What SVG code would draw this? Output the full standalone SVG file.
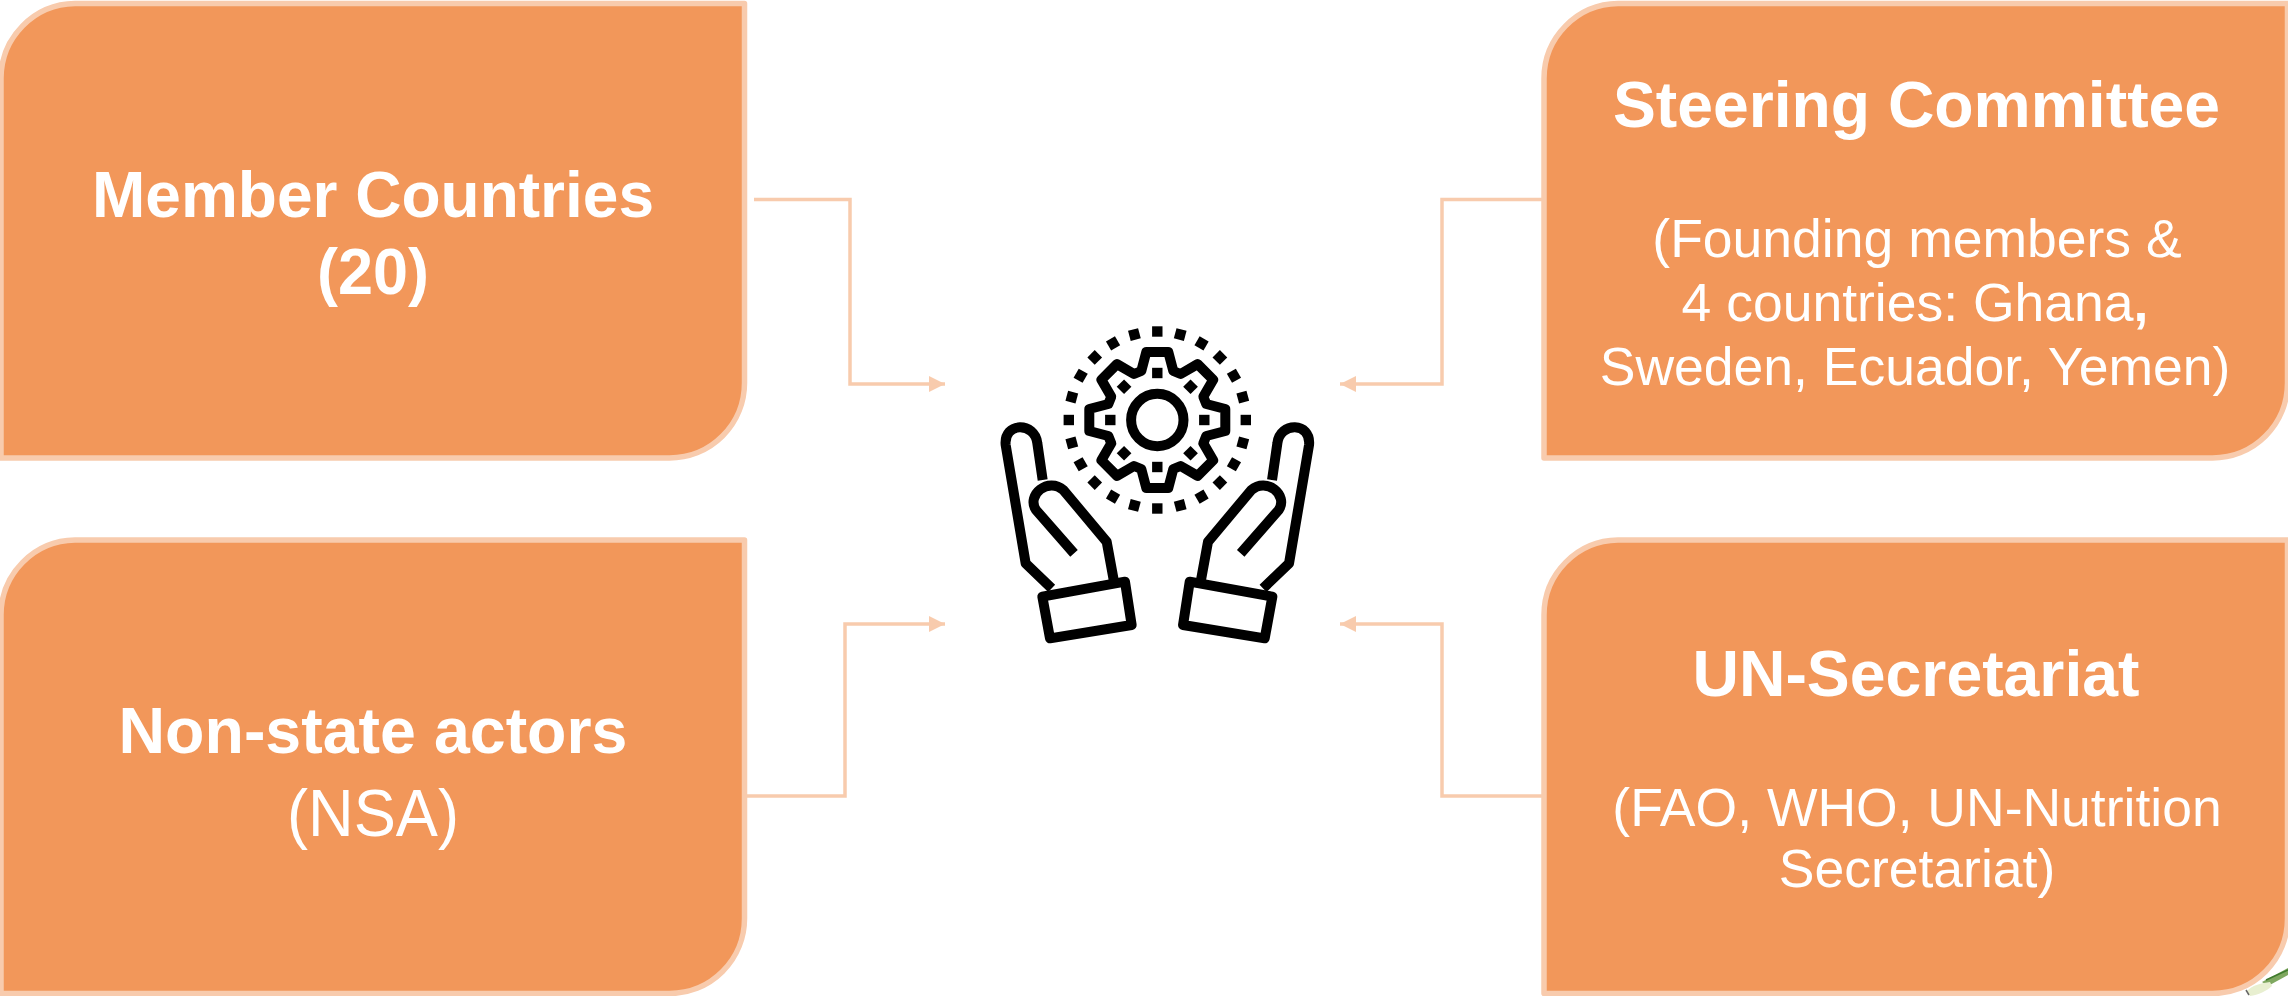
<svg xmlns="http://www.w3.org/2000/svg" width="2288" height="996" viewBox="0 0 2288 996">
<style>
.box{fill:#F2975A;stroke:#F8CBAD;stroke-width:5.5;stroke-linejoin:round}
.conn{fill:none;stroke:#F8CBAD;stroke-width:3.5}
text{font-family:"Liberation Sans",Arial,sans-serif;fill:#fff;font-size:53.5px;text-anchor:middle}
.b{font-weight:700;font-size:65.5px}
.r{font-size:66px}
.c{font-weight:700}
.ic{fill:none;stroke:#000;stroke-width:30;stroke-linejoin:round;stroke-linecap:butt}
.d{fill:#000}
.g{fill:none;stroke:#000;stroke-width:10;stroke-linejoin:round}
</style>
<defs>
<marker id="arr" markerUnits="userSpaceOnUse" markerWidth="16" markerHeight="16" refX="16" refY="8" orient="auto"><path d="M0 0L16 8L0 16Z" fill="#F8CBAD"/></marker>
<rect id="sq" x="-5.2" y="-5.2" width="10.4" height="10.4" class="d"/>
<g id="hand" class="ic">
<path d="M275 865L197 790L137 435C130 365 225 365 232 430L248 540"/>
<path d="M342 760L228 630C198 585 265 530 310 570L440 725L462 845"/>
<path d="M247 890L495 845L515 975L270 1015Z"/>
</g>
</defs>
<g id="background-onion">
<path d="M2262 982L2288 968V975L2268 986Z" fill="#7fa860"/>
<path d="M2266 980L2288 970" stroke="#3f7a2e" stroke-width="1.5" fill="none"/>
<path d="M2247 991C2252 985 2262 983 2270 982L2272 986C2267 991 2258 995 2250 996Z" fill="#e8efd0"/>
<path d="M2246 990L2249 995" stroke="#666" stroke-width="1.5" fill="none"/>
</g>
<g id="connectors">
<path class="conn" marker-end="url(#arr)" d="M754 199.5H850V384H945"/>
<path class="conn" marker-end="url(#arr)" d="M1542 199.5H1442V384H1340"/>
<path class="conn" marker-end="url(#arr)" d="M747 796H845V624H945"/>
<path class="conn" marker-end="url(#arr)" d="M1542 796H1442V624H1340"/>
</g>
<g id="node-member">
<path class="box" d="M75 3.5H744.5V383A75 75 0 0 1 669.5 458H1V78.5A75 75 0 0 1 75 3.5Z"/>
<text class="b" x="373" y="217" textLength="562" lengthAdjust="spacingAndGlyphs">Member Countries</text>
<text class="b" x="373" y="293.5" textLength="112" lengthAdjust="spacingAndGlyphs">(20)</text>
</g>
<g id="node-steering">
<path class="box" d="M1618 3.5H2287.5V383A75 75 0 0 1 2212.5 458H1544V78.5A75 75 0 0 1 1618 3.5Z"/>
<text class="b" x="1916.5" y="126.7" textLength="607" lengthAdjust="spacingAndGlyphs">Steering Committee</text>
<text x="1917" y="257">(Founding members &amp;</text>
<text x="1915" y="320.7">4 countries: Ghana<tspan class="c">,</tspan></text>
<text x="1915" y="385">Sweden, Ecuador, Yemen)</text>
</g>
<g id="node-nsa">
<path class="box" d="M75 540H744.5V918.5A75 75 0 0 1 669.5 993.5H1V615A75 75 0 0 1 75 540Z"/>
<text class="b" x="373" y="753" textLength="509" lengthAdjust="spacingAndGlyphs">Non-state actors</text>
<text class="r" x="373" y="836" textLength="172" lengthAdjust="spacingAndGlyphs">(NSA)</text>
</g>
<g id="node-secretariat">
<path class="box" d="M1618 540H2287.5V918.5A75 75 0 0 1 2212.5 993.5H1544V615A75 75 0 0 1 1618 540Z"/>
<text class="b" x="1916" y="696" textLength="447" lengthAdjust="spacingAndGlyphs">UN-Secretariat</text>
<text x="1917" y="826">(FAO, WHO, UN-Nutrition</text>
<text x="1917" y="887">Secretariat)</text>
</g>
<g id="icon">
<g transform="translate(1157.3 420)">
<circle r="26.2" class="g"/>
<path class="g" d="M-16 -49L-11 -68H11L16 -49L23.3 -46L40.3 -55.9L55.9 -40.3L46 -23.3L49 -16L68 -11V11L49 16L46 23.3L55.9 40.3L40.3 55.9L23.3 46L16 49L11 68H-11L-16 49L-23.3 46L-40.3 55.9L-55.9 40.3L-46 23.3L-49 16L-68 11V-11L-49 -16L-46 -23.3L-55.9 -40.3L-40.3 -55.9L-23.3 -46Z"/>
<use href="#sq" transform="rotate(0) translate(0 -47)"/><use href="#sq" transform="rotate(45) translate(0 -47)"/><use href="#sq" transform="rotate(90) translate(0 -47)"/><use href="#sq" transform="rotate(135) translate(0 -47)"/><use href="#sq" transform="rotate(180) translate(0 -47)"/><use href="#sq" transform="rotate(225) translate(0 -47)"/><use href="#sq" transform="rotate(270) translate(0 -47)"/><use href="#sq" transform="rotate(315) translate(0 -47)"/>
<use href="#sq" transform="rotate(0) translate(0 -88.5)"/><use href="#sq" transform="rotate(15) translate(0 -88.5)"/><use href="#sq" transform="rotate(30) translate(0 -88.5)"/><use href="#sq" transform="rotate(45) translate(0 -88.5)"/><use href="#sq" transform="rotate(60) translate(0 -88.5)"/><use href="#sq" transform="rotate(75) translate(0 -88.5)"/><use href="#sq" transform="rotate(90) translate(0 -88.5)"/><use href="#sq" transform="rotate(105) translate(0 -88.5)"/><use href="#sq" transform="rotate(120) translate(0 -88.5)"/><use href="#sq" transform="rotate(135) translate(0 -88.5)"/><use href="#sq" transform="rotate(150) translate(0 -88.5)"/><use href="#sq" transform="rotate(165) translate(0 -88.5)"/><use href="#sq" transform="rotate(180) translate(0 -88.5)"/><use href="#sq" transform="rotate(195) translate(0 -88.5)"/><use href="#sq" transform="rotate(210) translate(0 -88.5)"/><use href="#sq" transform="rotate(225) translate(0 -88.5)"/><use href="#sq" transform="rotate(240) translate(0 -88.5)"/><use href="#sq" transform="rotate(255) translate(0 -88.5)"/><use href="#sq" transform="rotate(270) translate(0 -88.5)"/><use href="#sq" transform="rotate(285) translate(0 -88.5)"/><use href="#sq" transform="rotate(300) translate(0 -88.5)"/><use href="#sq" transform="rotate(315) translate(0 -88.5)"/><use href="#sq" transform="rotate(330) translate(0 -88.5)"/><use href="#sq" transform="rotate(345) translate(0 -88.5)"/>
</g>
<g transform="translate(960 300) scale(.33333)"><use href="#hand"/></g>
<g transform="translate(1354.7 300) scale(-.33333 .33333)"><use href="#hand"/></g>
</g>
</svg>
